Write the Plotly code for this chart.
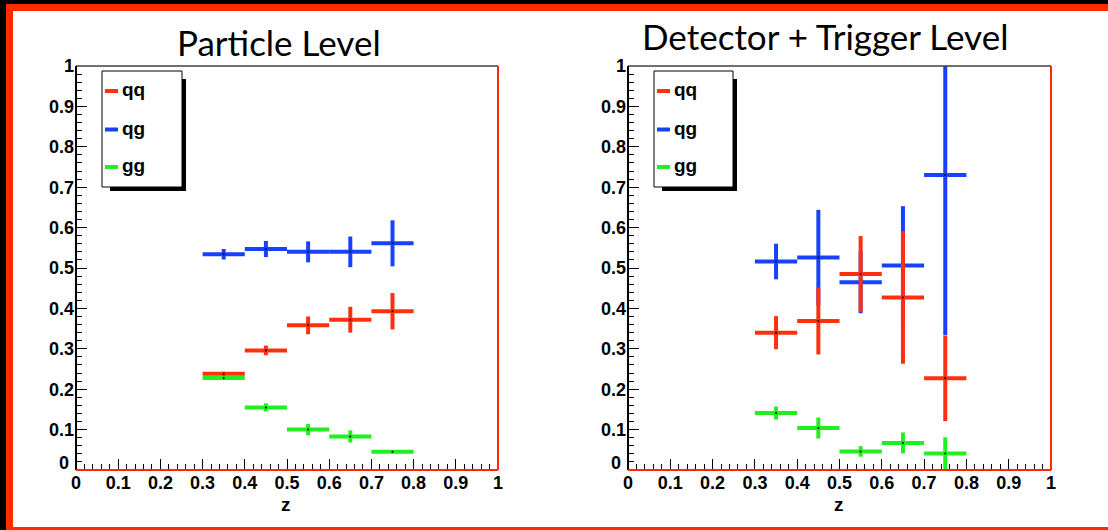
import plotly.graph_objects as go

W, H = 1108, 530

# ---------------- data ----------------
categories = ["qq", "qg", "gg"]
panel_titles = ["Particle Level", "Detector + Trigger Level"]
axis_title = "z"
z_centers = [0.35, 0.45, 0.55, 0.65, 0.75]
z_halfwidth = [0.05, 0.05, 0.05, 0.05, 0.05]
tick_values = [0, 0.1, 0.2, 0.3, 0.4, 0.5, 0.6, 0.7, 0.8, 0.9, 1]
x_tick_labels = ["0", "0.1", "0.2", "0.3", "0.4", "0.5", "0.6", "0.7", "0.8", "0.9", "1"]
# the y-axis "0" is drawn separately (raised slightly, ROOT style)
y_tick_labels = ["", "0.1", "0.2", "0.3", "0.4", "0.5", "0.6", "0.7", "0.8", "0.9", "1"]
y_zero_label = "0"

# Particle level
qq_part = [0.238, 0.296, 0.358, 0.372, 0.393]
qq_part_err = [0.005, 0.012, 0.022, 0.032, 0.045]
qg_part = [0.534, 0.547, 0.540, 0.540, 0.561]
qg_part_err = [0.013, 0.020, 0.026, 0.038, 0.057]
gg_part = [0.228, 0.155, 0.100, 0.083, 0.045]
gg_part_err = [0.004, 0.010, 0.014, 0.015, 0.004]

# Detector + trigger level
qq_det = [0.340, 0.369, 0.485, 0.427, 0.227]
qq_det_err = [0.041, 0.083, 0.094, 0.164, 0.106]
qg_det = [0.516, 0.526, 0.465, 0.506, 0.730]
qg_det_err = [0.044, 0.118, 0.077, 0.147, 0.396]
gg_det = [0.141, 0.104, 0.046, 0.067, 0.041]
gg_det_err = [0.016, 0.026, 0.013, 0.026, 0.040]

colors = {"qq": "#ff3010", "qg": "#1840ff", "gg": "#20f020"}
FRAME_RED = "#ff2a00"


def px(x):
    return x / W


def py(y):
    return 1 - y / H


fig = go.Figure()

panels = [
    {"xa": "x", "ya": "y", "data": {"qq": (qq_part, qq_part_err), "qg": (qg_part, qg_part_err), "gg": (gg_part, gg_part_err)}},
    {"xa": "x2", "ya": "y2", "data": {"qq": (qq_det, qq_det_err), "qg": (qg_det, qg_det_err), "gg": (gg_det, gg_det_err)}},
]

draw_order = ["qg", "qq", "gg"]
for p in panels:
    for name in draw_order:
        vals, errs = p["data"][name]
        fig.add_trace(go.Scatter(
            x=z_centers, y=vals, mode="markers", name=name, showlegend=False,
            xaxis=p["xa"], yaxis=p["ya"],
            marker=dict(size=2, color="black"),
            error_x=dict(type="data", array=z_halfwidth, color=colors[name], thickness=4, width=0),
            error_y=dict(type="data", array=errs, color=colors[name], thickness=4, width=0),
            cliponaxis=True,
        ))

# pixel geometry of the two frames
frames = [
    {"x0": 76, "x1": 498, "y0": 66, "y1": 470},
    {"x0": 628, "x1": 1051, "y0": 66, "y1": 470},
]

tickfont = dict(family="Liberation Sans, Arial, sans-serif", size=18, color="black", weight="bold")

common_axis = dict(
    range=[0, 1], tickvals=tick_values, automargin=False,
    ticks="inside", ticklen=11, tickwidth=1, tickcolor="black",
    minor=dict(ticks="inside", ticklen=6, dtick=0.02, tickcolor="black", tickwidth=1),
    showgrid=False, zeroline=False, showline=False, fixedrange=True,
    tickfont=tickfont,
)

layout_axes = {}
for i, f in enumerate(frames):
    sx = "" if i == 0 else str(i + 1)
    layout_axes["xaxis" + sx] = dict(
        common_axis, domain=[px(f["x0"]), px(f["x1"])], ticktext=x_tick_labels,
        anchor="y" + sx,
    )
    layout_axes["yaxis" + sx] = dict(
        common_axis, domain=[py(f["y1"]), py(f["y0"])], ticktext=y_tick_labels,
        anchor="x" + sx, ticklabelstandoff=1,
    )

shapes = []
# outer red frame and white canvas
shapes.append(dict(type="rect", xref="paper", yref="paper", x0=px(6), x1=px(1130), y0=py(560), y1=py(4),
                   fillcolor=FRAME_RED, line=dict(width=0), layer="below"))
shapes.append(dict(type="rect", xref="paper", yref="paper", x0=px(13), x1=px(1130), y0=py(527), y1=py(11),
                   fillcolor="white", line=dict(width=0), layer="below"))

for i, f in enumerate(frames):
    sx = "" if i == 0 else str(i + 1)
    xd, yd = "x%s domain" % sx, "y%s domain" % sx
    shapes.append(dict(type="line", xref=xd, yref=yd, x0=0, x1=1, y0=1, y1=1, line=dict(color="#404040", width=1.5)))
    shapes.append(dict(type="line", xref=xd, yref=yd, x0=0, x1=0, y0=0, y1=1, line=dict(color="black", width=2)))
    shapes.append(dict(type="line", xref=xd, yref=yd, x0=0, x1=1, y0=0, y1=0, line=dict(color=FRAME_RED, width=2)))
    shapes.append(dict(type="line", xref=xd, yref=yd, x0=1, x1=1, y0=0, y1=1, line=dict(color=FRAME_RED, width=2)))

annotations = []
for i, f in enumerate(frames):
    # axis title
    annotations.append(dict(xref="paper", yref="paper", x=px((f["x0"] + f["x1"]) / 2 - 1), y=py(504),
                            text="<b>%s</b>" % axis_title, showarrow=False, xanchor="center", yanchor="middle",
                            font=dict(family="Liberation Sans, Arial", size=19, color="black")))
    # raised y-axis zero label
    annotations.append(dict(xref="paper", yref="paper", x=px(f["x0"] - 5), y=py(463),
                            text="<b>%s</b>" % y_zero_label, showarrow=False, xanchor="right", yanchor="middle",
                            font=dict(family="Liberation Sans, Arial", size=18, color="black")))

# legends
legend_boxes = [
    {"x0": 102, "x1": 182, "y0": 71, "y1": 187},
    {"x0": 654, "x1": 733, "y0": 71, "y1": 187},
]
legend_rows_y = [91, 129.5, 167]
for lb in legend_boxes:
    shapes.append(dict(type="rect", xref="paper", yref="paper",
                       x0=px(lb["x0"] + 8), x1=px(lb["x1"] + 4), y0=py(lb["y1"] + 4), y1=py(lb["y0"] + 8),
                       fillcolor="black", line=dict(width=0)))
    shapes.append(dict(type="rect", xref="paper", yref="paper",
                       x0=px(lb["x0"]), x1=px(lb["x1"]), y0=py(lb["y1"]), y1=py(lb["y0"]),
                       fillcolor="white", line=dict(color="black", width=1)))
    for name, ry in zip(categories, legend_rows_y):
        shapes.append(dict(type="line", xref="paper", yref="paper",
                           x0=px(lb["x0"] + 3), x1=px(lb["x0"] + 16), y0=py(ry), y1=py(ry),
                           line=dict(color=colors[name], width=4)))
        annotations.append(dict(xref="paper", yref="paper", x=px(lb["x0"] + 18), y=py(ry - 1),
                                text="<b>%s</b>" % name, showarrow=False, xanchor="left", yanchor="middle",
                                font=dict(family="Liberation Sans, Arial", size=19, color="black")))

# panel titles
title_pos = [(279, 42), (825, 36)]
for t, (tx, ty) in zip(panel_titles, title_pos):
    annotations.append(dict(xref="paper", yref="paper", x=px(tx), y=py(ty), text=t, showarrow=False,
                            xanchor="center", yanchor="middle",
                            font=dict(family="Lato, sans-serif", size=35, color="black")))

fig.update_layout(
    width=W, height=H, margin=dict(l=0, r=0, t=0, b=0, autoexpand=False),
    paper_bgcolor="black", plot_bgcolor="white",
    showlegend=False, shapes=shapes, annotations=annotations,
    **layout_axes,
)

fig.write_html("out.html")
